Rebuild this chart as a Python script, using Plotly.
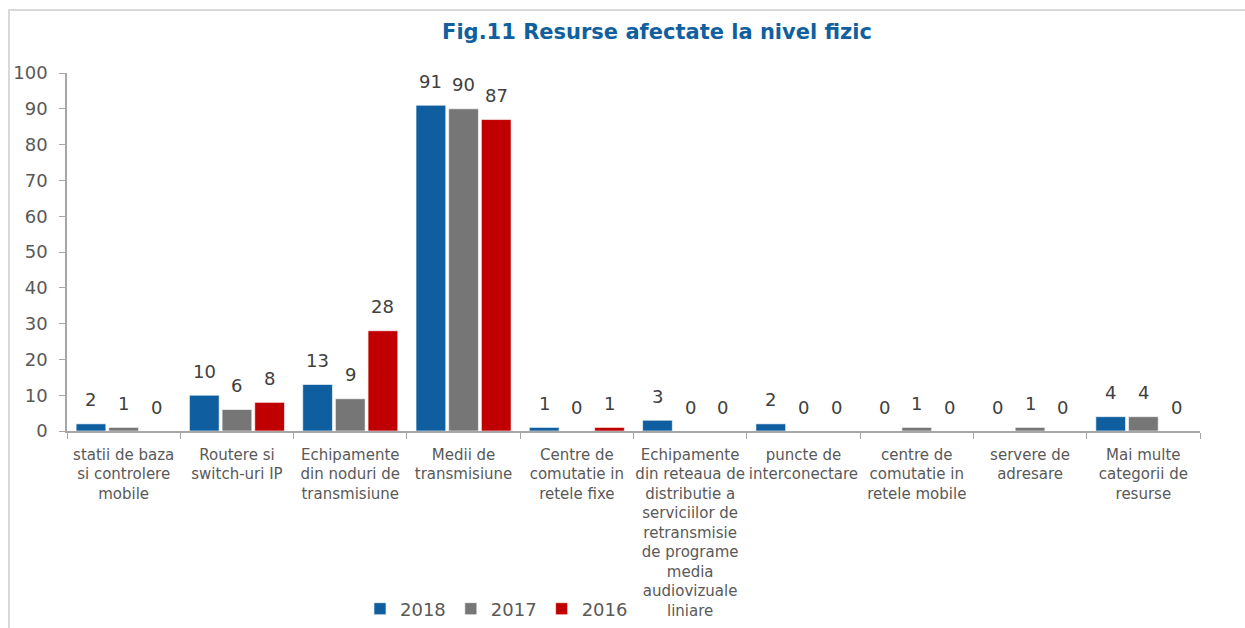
import plotly.graph_objects as go

categories = [
    "statii de baza<br>si controlere<br>mobile",
    "Routere si<br>switch-uri IP",
    "Echipamente<br>din noduri de<br>transmisiune",
    "Medii de<br>transmisiune",
    "Centre de<br>comutatie in<br>retele fixe",
    "Echipamente<br>din reteaua de<br>distributie a<br>serviciilor de<br>retransmisie<br>de programe<br>media<br>audiovizuale<br>liniare",
    "puncte de<br>interconectare",
    "centre de<br>comutatie in<br>retele mobile",
    "servere de<br>adresare",
    "Mai multe<br>categorii de<br>resurse",
]
series_names = ["2018", "2017", "2016"]
values_2018 = [2, 10, 13, 91, 1, 3, 2, 0, 0, 4]
values_2017 = [1, 6, 9, 90, 0, 0, 0, 1, 1, 4]
values_2016 = [0, 8, 28, 87, 1, 0, 0, 0, 0, 0]
colors = ["#0F5FA0", "#767676", "#C00000"]
yticks = list(range(0, 101, 10))

series_values = [values_2018, values_2017, values_2016]

fig = go.Figure()
for name, vals, col in zip(series_names, series_values, colors):
    fig.add_trace(go.Bar(
        x=categories, y=vals, name=name,
        marker=dict(color=col, line=dict(color="rgba(255,255,255,0.6)", width=1)),
    ))

W, H = 1245, 628
ml, mr, mt, mb = 67, 45, 73, 197
plot_w = W - ml - mr
plot_h = H - mt - mb
bargap = 0.135
slot = plot_w / len(categories) * (1 - bargap) / 3

annotations = []
for k, vals in enumerate(series_values):
    for c, v in zip(categories, vals):
        annotations.append(dict(
            x=c, y=v, xref="x", yref="y", text=str(v), showarrow=False,
            xshift=(k - 1) * slot, yshift=24, yanchor="middle",
            font=dict(family="DejaVu Sans", size=18, color="#404040"),
        ))

fig.update_layout(
    width=W, height=H,
    margin=dict(l=ml, r=mr, t=mt, b=mb, autoexpand=False),
    paper_bgcolor="white", plot_bgcolor="white",
    barmode="group", bargap=bargap, bargroupgap=0.09,
    title=dict(
        text="<b>Fig.11 Resurse afectate la nivel fizic</b>",
        x=(657 - ml) / plot_w, xref="paper", xanchor="center",
        y=1 - 32 / H, yref="container", yanchor="middle",
        font=dict(family="DejaVu Sans", size=21, color="#1060A0"),
    ),
    font=dict(family="DejaVu Sans", color="#595959"),
    showlegend=True,
    legend=dict(
        orientation="h", x=(360 - ml) / plot_w, xanchor="left",
        y=-(609 - (H - mb)) / plot_h, yanchor="middle",
        font=dict(family="DejaVu Sans", size=18, color="#595959"),
        bgcolor="rgba(0,0,0,0)",
    ),
    annotations=annotations,
    shapes=[dict(
        type="rect", xref="paper", yref="paper",
        x0=(9 - ml) / plot_w, x1=1.2, y0=-0.8, y1=(H - mb - 10) / plot_h,
        line=dict(color="#D9D9D9", width=2), layer="below",
    )],
)
fig.update_xaxes(
    type="category", showline=True, linecolor="#A6A6A6", linewidth=1.5,
    ticks="outside", tickson="boundaries", ticklen=6, tickcolor="#A6A6A6",
    tickfont=dict(family="DejaVu Sans", size=15, color="#595959"),
    showgrid=False, tickangle=0, automargin=False, ticklabelstandoff=9,
)
fig.update_yaxes(
    range=[0, 100], tickvals=yticks, showline=True, linecolor="#A6A6A6", linewidth=1.5,
    ticks="outside", ticklen=6, tickcolor="#A6A6A6", ticklabelstandoff=8,
    tickfont=dict(family="DejaVu Sans", size=18, color="#595959"),
    showgrid=False, zeroline=False, automargin=False,
)

fig.write_html(
    "out.html",
    config={"displayModeBar": False},
    post_script="document.body.style.margin='0';document.body.style.overflow='hidden';",
)
